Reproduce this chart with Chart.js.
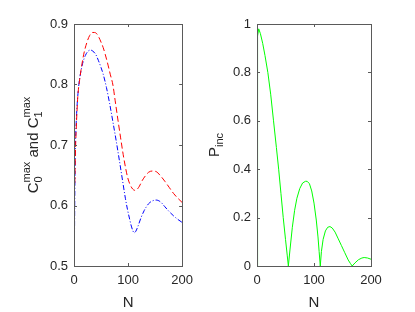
<!DOCTYPE html>
<html>
<head>
<meta charset="utf-8">
<script src="https://cdn.jsdelivr.net/npm/chart.js@4.4.1/dist/chart.umd.min.js"></script>
<style>
  html, body { margin: 0; padding: 0; background: #fff; }
  #wrap { position: relative; width: 415px; height: 312px; }
  #c1 { position: absolute; left: 0; top: 0; }
  #c2 { position: absolute; left: 200px; top: 0; }
</style>
</head>
<body>
<div id="wrap">
  <canvas id="c1" width="200" height="312"></canvas>
  <canvas id="c2" width="215" height="312"></canvas>
</div>
<script>
// left panel: C0max (red, dashed) and C1max (blue, dash-dot)
const nC0 = [1.5, 2, 3, 4, 5.5, 7, 10, 13, 18, 24, 29, 34, 38, 42, 46, 50, 54, 58, 63, 67, 72, 76, 81, 86, 91, 95, 99, 103, 107, 110, 113, 117, 121, 126, 132, 138, 145, 152, 160, 168, 176, 184, 192, 200];
const c0 = [0.637, 0.66, 0.70, 0.725, 0.755, 0.78, 0.805, 0.824, 0.85, 0.87, 0.881, 0.886, 0.886, 0.884, 0.878, 0.870, 0.861, 0.849, 0.832, 0.817, 0.799, 0.774, 0.743, 0.713, 0.684, 0.664, 0.647, 0.636, 0.629, 0.626, 0.625, 0.627, 0.632, 0.641, 0.649, 0.655, 0.657, 0.656, 0.649, 0.64, 0.63, 0.62, 0.612, 0.605];
const nC1 = [0.5, 1, 1.7, 2.4, 4, 6, 9, 12, 16, 21, 26, 30.5, 35, 40, 45, 50, 54, 60, 66, 72, 78, 84, 90, 95, 99, 103, 106, 109, 111, 114, 118, 124, 130, 138, 146, 152, 160, 168, 176, 184, 192, 200];
const c1 = [0.5, 0.56, 0.64, 0.687, 0.735, 0.769, 0.80, 0.818, 0.835, 0.848, 0.855, 0.857, 0.855, 0.850, 0.840, 0.828, 0.817, 0.795, 0.768, 0.738, 0.707, 0.674, 0.64, 0.612, 0.593, 0.577, 0.566, 0.558, 0.555, 0.557, 0.565, 0.58, 0.592, 0.603, 0.608, 0.609, 0.606, 0.598, 0.59, 0.583, 0.577, 0.572];

// right panel: Pinc (green)
const nP = [0, 1, 3, 6, 10, 14, 19, 24, 29, 34, 38, 42, 46, 50, 53, 55, 58, 62, 66, 70, 75, 80, 85, 88, 92, 96, 100, 104, 107, 109, 111, 113, 116, 120, 124, 128, 132, 137, 142, 148, 154, 160, 164, 167, 172, 178, 184, 188, 194, 200];
const pInc = [0, 0.95, 0.98, 0.96, 0.92, 0.87, 0.80, 0.71, 0.60, 0.49, 0.40, 0.30, 0.20, 0.11, 0.045, 0, 0.07, 0.16, 0.23, 0.28, 0.32, 0.343, 0.35, 0.35, 0.34, 0.31, 0.26, 0.19, 0.12, 0.06, 0, 0.06, 0.11, 0.145, 0.16, 0.163, 0.157, 0.14, 0.115, 0.085, 0.055, 0.025, 0.01, 0, 0.013, 0.026, 0.033, 0.035, 0.033, 0.028];

const xTicks = [0, 100, 200];
const yTicksL = [0.5, 0.6, 0.7, 0.8, 0.9];
const yTicksR = [0, 0.2, 0.4, 0.6, 0.8, 1];

const FONT = "'Liberation Sans', Arial, sans-serif";
const TXT = '#262626';
const AX = '#5a5a5a';

const pts = (xs, ys) => xs.map((x, i) => ({ x: x, y: ys[i] }));
const fmt = v => String(+(+v).toFixed(2));

// box + inward ticks + axis titles (matlab style)
function matlabAxes(yTitle, ticksX, ticksY) {
  return {
    id: 'matlabAxes',
    afterDraw(chart) {
      const ctx = chart.ctx;
      const a = chart.chartArea;
      const sx = chart.scales.x, sy = chart.scales.y;
      ctx.save();
      ctx.strokeStyle = AX;
      ctx.lineWidth = 1;
      ctx.strokeRect(Math.round(a.left) + 0.5, Math.round(a.top) + 0.5,
        Math.round(a.right - a.left), Math.round(a.bottom - a.top));
      ctx.beginPath();
      ticksX.forEach(v => {
        const p = Math.round(sx.getPixelForValue(v)) + 0.5;
        ctx.moveTo(p, a.bottom); ctx.lineTo(p, a.bottom - 3);
        ctx.moveTo(p, a.top); ctx.lineTo(p, a.top + 3);
      });
      ticksY.forEach(v => {
        const p = Math.round(sy.getPixelForValue(v)) + 0.5;
        ctx.moveTo(a.left, p); ctx.lineTo(a.left + 3, p);
        ctx.moveTo(a.right, p); ctx.lineTo(a.right - 3, p);
      });
      ctx.stroke();

      ctx.fillStyle = TXT;
      ctx.font = '15px ' + FONT;
      ctx.textAlign = 'center';
      ctx.textBaseline = 'middle';
      ctx.fillText('N', (a.left + a.right) / 2, 303);

      drawRich(ctx, yTitle.parts, yTitle.x, (a.top + a.bottom) / 2);
      ctx.restore();
    }
  };
}

// rotated label with sub/superscripts
function drawRich(ctx, parts, cx, cy) {
  const big = 15, small = 11;
  let total = 0;
  parts.forEach(p => {
    if (p.t) { ctx.font = big + 'px ' + FONT; p.w = ctx.measureText(p.t).width; }
    else {
      ctx.font = small + 'px ' + FONT;
      p.w = Math.max(ctx.measureText(p.sub || '').width, ctx.measureText(p.sup || '').width);
    }
    total += p.w;
  });
  ctx.save();
  ctx.translate(cx, cy);
  ctx.rotate(-Math.PI / 2);
  ctx.textAlign = 'left';
  ctx.textBaseline = 'alphabetic';
  let x = -total / 2;
  const base = big * 0.36;
  parts.forEach(p => {
    if (p.t) {
      ctx.font = big + 'px ' + FONT;
      ctx.fillText(p.t, x, base);
    } else {
      ctx.font = small + 'px ' + FONT;
      if (p.sub) ctx.fillText(p.sub, x, base + 4);
      if (p.sup) ctx.fillText(p.sup, x, base - 8);
    }
    x += p.w;
  });
  ctx.restore();
}

function makeOptions(xMax, yMin, yMax, yStep, yWidth, padRight) {
  return {
    responsive: false,
    animation: false,
    layout: { padding: { top: 24, right: padRight, left: 0, bottom: 0 } },
    plugins: { legend: { display: false }, tooltip: { enabled: false } },
    elements: { point: { radius: 0 }, line: { borderWidth: 1 } },
    scales: {
      x: {
        type: 'linear', min: 0, max: xMax,
        grid: { display: false, drawTicks: false },
        border: { display: false },
        ticks: { stepSize: 100, color: TXT, font: { family: FONT, size: 13 }, padding: 7, maxRotation: 0, callback: fmt },
        afterFit: s => { s.height = 46; }
      },
      y: {
        min: yMin, max: yMax,
        grid: { display: false, drawTicks: false },
        border: { display: false },
        ticks: { stepSize: yStep, color: TXT, font: { family: FONT, size: 13 }, padding: 6, callback: fmt },
        afterFit: s => { s.width = yWidth; }
      }
    }
  };
}

new Chart(document.getElementById('c1'), {
  type: 'line',
  data: {
    datasets: [
      { data: pts(nC0, c0), borderColor: '#ff0000', borderDash: [6, 3], cubicInterpolationMode: 'monotone' },
      { data: pts(nC1, c1), borderColor: '#0000ff', borderDash: [5, 2, 1, 2], cubicInterpolationMode: 'monotone' }
    ]
  },
  options: makeOptions(200, 0.5, 0.9, 0.1, 74, 12),
  plugins: [matlabAxes({ x: 33, parts: [{ t: 'C' }, { sub: '0', sup: 'max' }, { t: ' and C' }, { sub: '1', sup: 'max' }] }, xTicks, yTicksL)]
});

new Chart(document.getElementById('c2'), {
  type: 'line',
  data: {
    datasets: [
      { data: pts(nP, pInc), borderColor: '#00ff00', tension: 0 }
    ]
  },
  options: makeOptions(200, 0, 1, 0.2, 57, 44),
  plugins: [matlabAxes({ x: 14, parts: [{ t: 'P' }, { sub: 'inc' }] }, xTicks, yTicksR)]
});
</script>
</body>
</html>
